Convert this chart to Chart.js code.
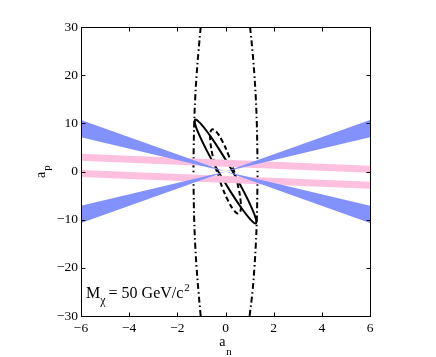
<!DOCTYPE html>
<html>
<head>
<meta charset="utf-8">
<script src="https://cdn.jsdelivr.net/npm/chart.js@4.4.0/dist/chart.umd.min.js"></script>
<style>
  body { margin: 0; background: #fff; }
</style>
</head>
<body>
<canvas id="myChart" width="436" height="357"></canvas>
<script>
// ---------- DATA ----------

var xTicks = [-6, -4, -2, 0, 2, 4, 6];
var yTicks = [-30, -20, -10, 0, 10, 20, 30];

// blue wedges, edges through the origin (a_n = -6, 0, 6)
var wedgeX = [-6, 0, 6];
var wedgeDownInner = [7.1, 0, -7.1];
var wedgeDownOuter = [10.7, 0, -10.7];
var wedgeUpInner = [-7.1, 0, 7.1];
var wedgeUpOuter = [-10.7, 0, 10.7];

// pink bands (centre lines)
var bandX = [-6, 6];
var bandUpper = [2.95, 0.45];
var bandLower = [-0.4, -2.85];

// solid ellipse
var solidX = [-0.30, -0.756, -1.096, -1.27, -1.25, -1.04, -0.672, -0.202, 0.30, 0.756, 1.096, 1.27, 1.25, 1.04, 0.672, 0.202, -0.30];
var solidY = [0, 4.13, 7.64, 9.98, 10.8, 9.98, 7.64, 4.13, 0, -4.13, -7.64, -9.98, -10.8, -9.98, -7.64, -4.13, 0];

// dashed ellipse
var dashX = [-0.36, -0.536, -0.63, -0.628, -0.53, -0.352, -0.12, 0.13, 0.36, 0.536, 0.63, 0.628, 0.53, 0.352, 0.12, -0.13, -0.36];
var dashY = [0, 3.35, 6.19, 8.08, 8.75, 8.08, 6.19, 3.35, 0, -3.35, -6.19, -8.08, -8.75, -8.08, -6.19, -3.35, 0];

// dash-dot curves
var arcY = [30, 25, 20, 15, 10, 5, 0, -5, -10, -15, -20, -25, -30];
var arcLeftX = [-1.03, -1.12, -1.2, -1.26, -1.3, -1.32, -1.33, -1.32, -1.3, -1.26, -1.2, -1.12, -1.03];
var arcRightX = [1.02, 1.12, 1.2, 1.26, 1.3, 1.32, 1.33, 1.32, 1.3, 1.26, 1.2, 1.12, 1.0];

var blue = '#8291fc';
var pink = '#ffc0e0';
var serif = '"Liberation Serif", "DejaVu Serif", serif';

function zip(xs, ys) {
  return xs.map(function(x, i) { return {x: x, y: ys[i]}; });
}

function lineSet(xs, ys, extra) {
  var ds = {
    data: zip(xs, ys),
    borderColor: '#000',
    borderWidth: 2,
    pointRadius: 0,
    fill: false,
    tension: 0,
    clip: 0
  };
  for (var k in extra) ds[k] = extra[k];
  return ds;
}

// frame, inner ticks, axis titles and the mass label
var framePlugin = {
  id: 'frame',
  afterDatasetsDraw: function(chart) {
    var ctx = chart.ctx;
    var a = chart.chartArea;
    var xs = chart.scales.x, ys = chart.scales.y;
    var L = Math.round(a.left) + 0.5, R = Math.round(a.right) + 0.5;
    var T = Math.round(a.top) + 0.5, B = Math.round(a.bottom) + 0.5;
    ctx.save();
    ctx.strokeStyle = '#000';
    ctx.lineWidth = 1;
    ctx.strokeRect(L, T, R - L, B - T);
    ctx.beginPath();
    xTicks.forEach(function(v) {
      var px = Math.round(xs.getPixelForValue(v)) + 0.5;
      ctx.moveTo(px, B); ctx.lineTo(px, B - 4);
      ctx.moveTo(px, T); ctx.lineTo(px, T + 4);
    });
    yTicks.forEach(function(v) {
      var py = Math.round(ys.getPixelForValue(v)) + 0.5;
      ctx.moveTo(L, py); ctx.lineTo(L + 4, py);
      ctx.moveTo(R, py); ctx.lineTo(R - 4, py);
    });
    ctx.stroke();

    ctx.fillStyle = '#000';
    ctx.textBaseline = 'alphabetic';
    ctx.textAlign = 'left';

    // x title a_n
    var cx = (a.left + a.right) / 2;
    ctx.font = '14px ' + serif;
    var wa = ctx.measureText('a').width;
    ctx.font = '11px ' + serif;
    var wn = ctx.measureText('n').width;
    var x0 = cx - (wa + wn + 1) / 2;
    ctx.font = '14px ' + serif;
    ctx.fillText('a', x0, 346);
    ctx.font = '11px ' + serif;
    ctx.fillText('n', x0 + wa + 1, 355);

    // y title a_p
    ctx.save();
    ctx.translate(45, 178);
    ctx.rotate(-Math.PI / 2);
    ctx.font = '14px ' + serif;
    ctx.fillText('a', 0, 0);
    ctx.font = '11px ' + serif;
    ctx.fillText('p', wa + 1, 5);
    ctx.restore();

    // mass label
    var lx = a.left + 5, ly = 298;
    ctx.font = '16px ' + serif;
    ctx.fillText('M', lx, ly);
    lx += ctx.measureText('M').width;
    ctx.font = '12px ' + serif;
    ctx.fillText('\u03c7', lx, ly + 6);
    lx += ctx.measureText('\u03c7').width + 3;
    ctx.font = '16px ' + serif;
    ctx.fillText('= 50 GeV/c', lx, ly);
    lx += ctx.measureText('= 50 GeV/c').width + 1;
    ctx.font = '11px ' + serif;
    ctx.fillText('2', lx, ly - 7);
    ctx.restore();
  }
};

var minus = function(v) { return String(v).replace('-', '\u2212'); };
var tickFont = { family: serif, size: 13.5 };

var ctx = document.getElementById('myChart').getContext('2d');
var myChart = new Chart(ctx, {
  type: 'line',
  data: {
    datasets: [
      lineSet(wedgeX, wedgeDownInner, { borderWidth: 0, borderColor: blue }),
      lineSet(wedgeX, wedgeDownOuter, { borderWidth: 0, borderColor: blue, backgroundColor: blue, fill: '-1' }),
      lineSet(wedgeX, wedgeUpInner, { borderWidth: 0, borderColor: blue }),
      lineSet(wedgeX, wedgeUpOuter, { borderWidth: 0, borderColor: blue, backgroundColor: blue, fill: '-1' }),
      lineSet(bandX, bandUpper, { borderWidth: 7, borderColor: pink }),
      lineSet(bandX, bandLower, { borderWidth: 7, borderColor: pink }),
      lineSet(arcLeftX, arcY, { borderDash: [6, 3, 1.5, 3], tension: 0.4 }),
      lineSet(arcRightX, arcY, { borderDash: [6, 3, 1.5, 3], tension: 0.4 }),
      lineSet(dashX, dashY, { borderDash: [5, 3], tension: 0.4 }),
      lineSet(solidX, solidY, { tension: 0.4 })
    ]
  },
  options: {
    responsive: false,
    animation: false,
    layout: { padding: { left: 0, right: 66, top: 27, bottom: 0 } },
    plugins: {
      legend: { display: false },
      tooltip: { enabled: false }
    },
    scales: {
      x: {
        type: 'linear',
        min: -6,
        max: 6,
        afterBuildTicks: function(s) { s.ticks = xTicks.map(function(v) { return {value: v}; }); },
        afterFit: function(s) { s.height = 41; },
        grid: { display: false, drawTicks: false },
        border: { display: false },
        ticks: { color: '#000', font: tickFont, padding: 4, maxRotation: 0, callback: minus }
      },
      y: {
        type: 'linear',
        min: -30,
        max: 30,
        afterBuildTicks: function(s) { s.ticks = yTicks.map(function(v) { return {value: v}; }); },
        afterFit: function(s) { s.width = 81; },
        grid: { display: false, drawTicks: false },
        border: { display: false },
        ticks: { color: '#000', font: tickFont, padding: 3, callback: minus }
      }
    }
  },
  plugins: [framePlugin]
});
</script>
</body>
</html>
